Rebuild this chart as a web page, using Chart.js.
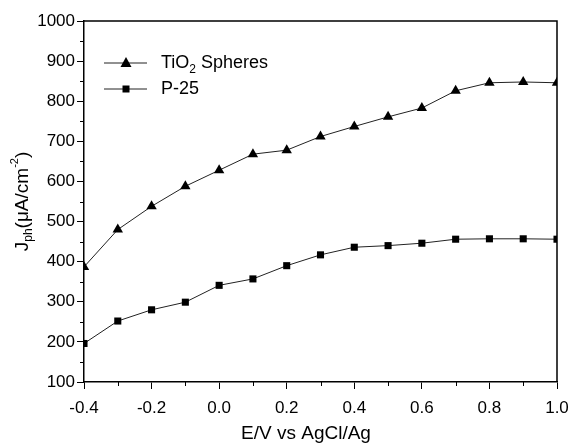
<!DOCTYPE html>
<html>
<head>
<meta charset="utf-8">
<script src="https://cdn.jsdelivr.net/npm/chart.js@4.4.0/dist/chart.umd.min.js"></script>
<style>
  html, body { margin: 0; padding: 0; background: #fff; }
  #wrap { width: 571px; height: 445px; }
</style>
</head>
<body>
<div id="wrap"><canvas id="jph"></canvas></div>
<script>
// photocurrent vs potential
var potentials = [-0.4, -0.3, -0.2, -0.1, 0.0, 0.1, 0.2, 0.3, 0.4, 0.5, 0.6, 0.7, 0.8, 0.9, 1.0];
var tio2Spheres = [387, 480, 538, 588, 628, 668, 678, 712, 737, 761, 783, 826, 846, 848, 846];
var p25 = [196, 252, 280, 299, 341, 357, 390, 417, 436, 440, 446, 456, 457, 457, 456];
var xMinor = [-0.3, -0.1, 0.1, 0.3, 0.5, 0.7, 0.9];
var yMinor = [150, 250, 350, 450, 550, 650, 750, 850, 950];

var FONT = 'Liberation Sans, Arial, sans-serif';

function pts(ys) {
    return potentials.map(function (x, i) { return { x: x, y: ys[i] }; });
}

var extras = {
    id: 'extras',
    afterDraw: function (chart) {
        var ctx = chart.ctx;
        var a = chart.chartArea;
        var xs = chart.scales.x, ys = chart.scales.y;
        ctx.save();
        ctx.strokeStyle = '#000';
        ctx.lineWidth = 1.5;
        // frame top + right
        ctx.beginPath();
        ctx.moveTo(a.left, a.top); ctx.lineTo(a.right, a.top); ctx.lineTo(a.right, a.bottom);
        ctx.stroke();
        // minor ticks
        ctx.lineWidth = 1;
        ctx.beginPath();
        xMinor.forEach(function (v) {
            var px = Math.round(xs.getPixelForValue(v)) + 0.5;
            ctx.moveTo(px, a.bottom); ctx.lineTo(px, a.bottom + 4);
        });
        yMinor.forEach(function (v) {
            var py = Math.round(ys.getPixelForValue(v)) + 0.5;
            ctx.moveTo(a.left, py); ctx.lineTo(a.left - 4, py);
        });
        ctx.stroke();

        // legend
        ctx.fillStyle = '#000';
        ctx.strokeStyle = '#222';
        ctx.lineWidth = 1;
        var rows = [{ y: 63, shape: 'tri' }, { y: 89, shape: 'sq' }];
        rows.forEach(function (r) {
            ctx.beginPath(); ctx.moveTo(104, r.y); ctx.lineTo(147, r.y); ctx.stroke();
            ctx.beginPath();
            if (r.shape === 'tri') {
                ctx.moveTo(126, r.y - 6); ctx.lineTo(131.5, r.y + 4); ctx.lineTo(120.5, r.y + 4);
            } else {
                ctx.rect(122.5, r.y - 3.5, 7, 7);
            }
            ctx.fill();
        });
        ctx.textBaseline = 'middle';
        ctx.textAlign = 'left';
        ctx.font = '18px ' + FONT;
        var x = 161;
        ctx.fillText('TiO', x, 63); x += ctx.measureText('TiO').width;
        ctx.font = '12px ' + FONT;
        ctx.fillText('2', x, 70); x += ctx.measureText('2').width;
        ctx.font = '18px ' + FONT;
        ctx.fillText(' Spheres', x, 63);
        ctx.fillText('P-25', 161, 89);

        // x title
        ctx.font = '19px ' + FONT;
        ctx.textAlign = 'center';
        ctx.fillText('E/V vs AgCl/Ag', 306, 434);

        // y title (rotated)
        ctx.translate(23, (a.top + a.bottom) / 2);
        ctx.rotate(-Math.PI / 2);
        var parts = [
            { t: 'J', s: 19, dy: 0 },
            { t: 'ph', s: 12, dy: 6 },
            { t: '(\u03bcA/cm', s: 19, dy: 0 },
            { t: '-2', s: 11, dy: -8 },
            { t: ')', s: 19, dy: 0 }
        ];
        var total = 0;
        parts.forEach(function (p) { ctx.font = p.s + 'px ' + FONT; p.w = ctx.measureText(p.t).width; total += p.w; });
        ctx.textAlign = 'left';
        var cx = -total / 2;
        parts.forEach(function (p) {
            ctx.font = p.s + 'px ' + FONT;
            ctx.fillText(p.t, cx, p.dy);
            cx += p.w;
        });
        ctx.restore();
    }
};

var ctx = document.getElementById('jph').getContext('2d');
var myChart = new Chart(ctx, {
    type: 'line',
    data: {
        datasets: [{
            label: 'TiO2 Spheres',
            data: pts(tio2Spheres),
            borderColor: '#222',
            backgroundColor: '#000',
            borderWidth: 1,
            pointStyle: 'triangle',
            pointRadius: 6,
            pointBorderWidth: 0,
            clip: 0
        }, {
            label: 'P-25',
            data: pts(p25),
            borderColor: '#222',
            backgroundColor: '#000',
            borderWidth: 1,
            pointStyle: 'rect',
            pointRadius: 5,
            pointBorderWidth: 0,
            clip: 0
        }]
    },
    options: {
        responsive: true,
        maintainAspectRatio: false,
        animation: false,
        layout: { padding: { left: 0, top: 21, right: 14, bottom: 0 } },
        plugins: { legend: { display: false }, tooltip: { enabled: false } },
        scales: {
            x: {
                type: 'linear',
                min: -0.4,
                max: 1.0,
                afterFit: function (s) { s.height = 63; s.paddingRight = 0; s.paddingLeft = 0; },
                grid: { drawOnChartArea: false, tickLength: 7, tickColor: '#000', tickWidth: 1 },
                border: { color: '#000', width: 1.5 },
                ticks: {
                    stepSize: 0.2,
                    padding: 9,
                    color: '#000',
                    font: { family: FONT, size: 17 },
                    callback: function (v) {
                        var r = Math.round(v * 10) / 10;
                        return (r === 0 ? 0 : r).toFixed(1);
                    }
                }
            },
            y: {
                min: 100,
                max: 1000,
                afterFit: function (s) { s.width = 84; s.paddingTop = 0; s.paddingBottom = 0; },
                grid: { drawOnChartArea: false, tickLength: 7, tickColor: '#000', tickWidth: 1 },
                border: { color: '#000', width: 1.5 },
                ticks: {
                    stepSize: 100,
                    padding: 2,
                    color: '#000',
                    font: { family: FONT, size: 17 },
                    callback: function (v) { return String(v); }
                }
            }
        }
    },
    plugins: [extras]
});
</script>
</body>
</html>
